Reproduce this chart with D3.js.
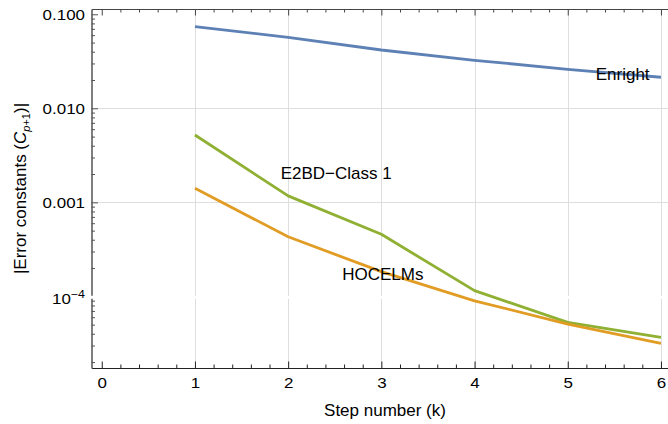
<!DOCTYPE html>
<html>
<head>
<meta charset="utf-8">
<script src="https://cdn.jsdelivr.net/npm/d3@7"></script>
<style>
  body { margin: 0; background: #fff; }
  svg { display: block; font-family: "Liberation Sans", Arial, sans-serif; }
</style>
</head>
<body>
<svg id="chart" width="668" height="424"></svg>
<script>
// step number k
var steps = [1, 2, 3, 4, 5, 6];

// |C_{p+1}| per method
var enright = [0.0738, 0.0569, 0.0417, 0.0324, 0.0260, 0.0214];
var e2bd    = [0.0052, 0.00117, 0.000457, 0.000115, 0.0000529, 0.0000366];
var hocelms = [0.00141, 0.00043, 0.000183, 0.0000897, 0.0000507, 0.0000316];

var seriesNames = ["Enright", "E2BD\u2212Class 1", "HOCELMs"];

// ticks
var xTicks = [0, 1, 2, 3, 4, 5, 6];
var yTicks = [0.1, 0.01, 0.001, 0.0001];
var yTickLabels = ["0.100", "0.010", "0.001", "10"];

var svg = d3.select("#chart");

// frame edges (note: "top" is taken by window.top)
var fLeft = 91.5, fRight = 671.2, fTop = 9, fBottom = 368;

var x = d3.scaleLinear().domain([-0.11, 6.11]).range([fLeft, fRight]);
var y = d3.scaleLog().domain([1.73e-5, 0.1138]).range([fBottom, fTop]);

var colors = ["#5E81B5", "#8FB032", "#E19C24"];

// minor ticks
var xMinor = d3.range(0, 6.001, 0.2).filter(function(d) { return Math.abs(d - Math.round(d)) > 0.01; });
var yMinor = [];
[1e-5, 1e-4, 1e-3, 1e-2].forEach(function(dec) {
  for (var m = 2; m <= 9; m++) {
    var v = dec * m;
    if (v > y.domain()[0] && v < y.domain()[1]) yMinor.push(v);
  }
});

// grid
var grid = svg.append("g").attr("stroke", "#dedede").attr("stroke-width", 1);
grid.selectAll(".vg").data(xTicks.slice(1)).enter().append("line")
  .attr("x1", function(d) { return Math.round(x(d)) + 0.5; })
  .attr("x2", function(d) { return Math.round(x(d)) + 0.5; })
  .attr("y1", fTop).attr("y2", fBottom);
grid.selectAll(".hg").data([0.01, 0.001]).enter().append("line")
  .attr("x1", fLeft).attr("x2", fRight)
  .attr("y1", function(d) { return Math.round(y(d)) + 0.5; })
  .attr("y2", function(d) { return Math.round(y(d)) + 0.5; });

function styleAxis(g, color) {
  g.attr("font-family", null).attr("font-size", null);
  g.selectAll("path, line").attr("stroke", color);
  g.selectAll("text").attr("fill", "#000");
}

// bottom
svg.append("g").attr("transform", "translate(0," + fBottom + ")")
  .call(d3.axisBottom(x).tickValues(xMinor).tickSizeInner(-3.5).tickSizeOuter(0).tickFormat(""))
  .call(styleAxis, "#222");
var bx = svg.append("g").attr("transform", "translate(0," + fBottom + ")")
  .call(d3.axisBottom(x).tickValues(xTicks).tickSizeInner(-6.5).tickSizeOuter(0).tickFormat(d3.format("d")))
  .call(styleAxis, "#222");
bx.selectAll("text")
  .attr("y", 9.5).attr("dy", "0.71em")
  .attr("font-size", 15)
  .attr("transform", "scale(1.13,1)");

// top
svg.append("g").attr("transform", "translate(0," + fTop + ")")
  .call(d3.axisTop(x).tickValues(xMinor).tickSizeInner(-3.5).tickSizeOuter(0).tickFormat(""))
  .call(styleAxis, "#444");
svg.append("g").attr("transform", "translate(0," + fTop + ")")
  .call(d3.axisTop(x).tickValues(xTicks).tickSizeInner(-6.5).tickSizeOuter(0).tickFormat(""))
  .call(styleAxis, "#444");

// left
svg.append("g").attr("transform", "translate(" + fLeft + ",0)")
  .call(d3.axisLeft(y).tickValues(yMinor).tickSizeInner(-3.5).tickSizeOuter(0).tickFormat(""))
  .call(styleAxis, "#555");
var ly = svg.append("g").attr("transform", "translate(" + fLeft + ",0)")
  .call(d3.axisLeft(y).tickValues(yTicks).tickSizeInner(-6.5).tickSizeOuter(0)
    .tickFormat(function(d, i) { return yTickLabels[i]; }))
  .call(styleAxis, "#555");
ly.selectAll("text")
  .attr("x", 0)
  .attr("font-size", 15)
  .attr("transform", "translate(-6.5,0) scale(1.13,1)")
  .each(function(d) {
    if (d === 0.0001) {
      var t = d3.select(this).attr("dy", "0.45em");
      t.append("tspan").attr("dy", "-6").attr("font-size", 11).text("\u22124");
    }
  });

// the 1e-4 grid line shows up white in the original
svg.append("line")
  .attr("x1", fLeft - 3).attr("x2", fRight)
  .attr("y1", y(0.0001) + 1).attr("y2", y(0.0001) + 1)
  .attr("stroke", "#fff").attr("stroke-width", 3);

// series
var line = d3.line()
  .x(function(d, i) { return x(steps[i]); })
  .y(function(d) { return y(d); });

svg.append("g").attr("fill", "none").attr("stroke-width", 2.8).attr("stroke-linejoin", "round")
  .selectAll("path")
  .data([enright, e2bd, hocelms])
  .enter().append("path")
  .attr("stroke", function(d, i) { return colors[i]; })
  .attr("d", line);

// series labels, placed in data coordinates
var labelAt = [[5.3, 0.0200], [1.92, 0.00178], [2.58, 0.000149]];
svg.append("g").attr("font-size", 17).attr("fill", "#000")
  .selectAll("text")
  .data(seriesNames)
  .enter().append("text")
  .attr("x", function(d, i) { return x(labelAt[i][0]); })
  .attr("y", function(d, i) { return y(labelAt[i][1]); })
  .text(function(d) { return d; });

// axis titles
svg.append("text")
  .attr("x", 385).attr("y", 415.5)
  .attr("text-anchor", "middle").attr("font-size", 17)
  .text("Step number (k)");

var yt = svg.append("text")
  .attr("transform", "translate(26," + (fTop + fBottom) / 2 + ") rotate(-90)")
  .attr("text-anchor", "middle").attr("font-size", 17);
yt.append("tspan").text("|Error constants (");
yt.append("tspan").attr("font-style", "italic").text("C");
yt.append("tspan").attr("dy", 4).attr("font-size", 11).attr("font-style", "italic").text("p");
yt.append("tspan").attr("font-size", 11).text("+1");
yt.append("tspan").attr("dy", -4).text(")|");
</script>
</body>
</html>
